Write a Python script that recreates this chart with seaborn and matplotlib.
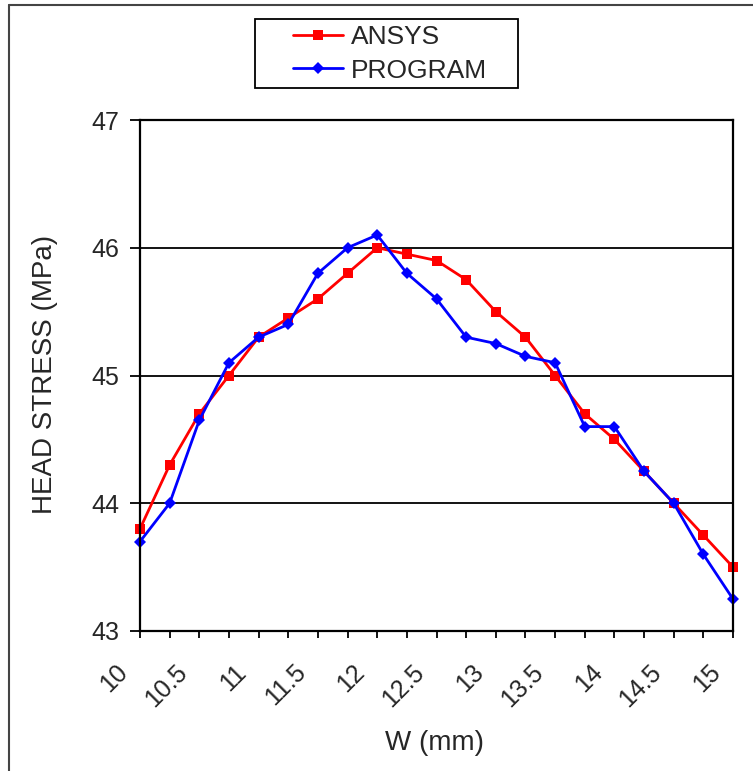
import numpy as np
import pandas as pd
import matplotlib
matplotlib.use("Agg")
import matplotlib.pyplot as plt
import matplotlib.transforms as mtransforms
from matplotlib.lines import Line2D
from matplotlib.patches import Rectangle
import seaborn as sns

w_mm = [10.0, 10.25, 10.5, 10.75, 11.0, 11.25, 11.5, 11.75, 12.0, 12.25, 12.5,
        12.75, 13.0, 13.25, 13.5, 13.75, 14.0, 14.25, 14.5, 14.75, 15.0]
ansys = [43.8, 44.3, 44.7, 45.0, 45.3, 45.45, 45.6, 45.8, 46.0, 45.95, 45.9,
         45.75, 45.5, 45.3, 45.0, 44.7, 44.5, 44.25, 44.0, 43.75, 43.5]
program = [43.7, 44.0, 44.65, 45.1, 45.3, 45.4, 45.8, 46.0, 46.1, 45.8, 45.6,
           45.3, 45.25, 45.15, 45.1, 44.6, 44.6, 44.25, 44.0, 43.6, 43.25]
x_tick_labels = ["10", "10.5", "11", "11.5", "12", "12.5", "13", "13.5", "14", "14.5", "15"]
y_ticks = [43, 44, 45, 46, 47]

df = pd.DataFrame({"W": w_mm * 2,
                   "stress": ansys + program,
                   "series": ["ANSYS"] * len(w_mm) + ["PROGRAM"] * len(w_mm)})

sns.set_theme(style="white")
plt.rcParams["font.family"] = ["Liberation Sans", "DejaVu Sans"]

W, H = 753, 771
fig = plt.figure(figsize=(W / 100, H / 100), dpi=100)
ax = fig.add_axes([140 / W, 1 - 631 / H, (733 - 140) / W, (631 - 120) / H])

sns.lineplot(data=df, x="W", y="stress", hue="series", style="series",
             palette={"ANSYS": "#ff0000", "PROGRAM": "#0000ff"},
             markers={"ANSYS": "s", "PROGRAM": "D"}, dashes=False,
             markersize=7, markeredgewidth=0, linewidth=2, ax=ax, legend=False)
for line in ax.lines:
    if line.get_marker() == "D":
        line.set_markersize(6)
    line.set_clip_on(False)

ax.set_xlim(10, 15)
ax.set_ylim(43, 47)
ax.set_xticks(w_mm)
labels = []
for v in w_mm:
    s = f"{v:g}"
    labels.append(s if s in x_tick_labels else "")
ax.set_yticks(y_ticks)
ax.tick_params(axis="x", bottom=True, direction="out", length=5, width=1.3, color="black", pad=6)
ax.tick_params(axis="y", left=True, direction="out", length=7, width=1.3, color="black", pad=8)
ax.set_xticklabels(labels, rotation=45, ha="right", va="center", rotation_mode="anchor",
                   fontsize=18)
ax.set_yticklabels([str(t) for t in y_ticks], fontsize=18)
offset = mtransforms.ScaledTranslation(-16 / 100, -22 / 100, fig.dpi_scale_trans)
for lab in ax.get_xticklabels():
    lab.set_transform(lab.get_transform() + offset)
ax.yaxis.grid(True, color="black", linewidth=1.3)
ax.xaxis.grid(False)
for sp in ax.spines.values():
    sp.set_visible(True)
    sp.set_color("black")
    sp.set_linewidth(1.6)

ax.set_xlabel("W (mm)", fontsize=20)
ax.xaxis.set_label_coords(0.497, (631 - 730) / 511)
ax.set_ylabel("HEAD STRESS (MPa)", fontsize=20)
ax.yaxis.set_label_coords((58 - 140) / 593, (631 - 374) / 511)

handles = [Line2D([0], [0], color="#ff0000", lw=2, marker="s", markersize=7, markeredgewidth=0),
           Line2D([0], [0], color="#0000ff", lw=2, marker="D", markersize=6, markeredgewidth=0)]
leg = fig.legend(handles, ["ANSYS", "PROGRAM"], loc="upper left",
                 bbox_to_anchor=(293 / W, 1 - 25 / H), frameon=False,
                 fontsize=19, handlelength=1.9, borderpad=0, labelspacing=0.36,
                 handletextpad=0.3, borderaxespad=0)
fig.add_artist(Rectangle((255 / W, 1 - 88 / H), (518 - 255) / W, (88 - 19) / H,
                         transform=fig.transFigure, fill=False, edgecolor="black", lw=1.3))

# outer chart frame (top and left edges visible)
fig.add_artist(Line2D([9 / W, 9 / W], [0, 1 - 5 / H], color="#444444", lw=1.5,
                      transform=fig.transFigure))
fig.add_artist(Line2D([9 / W, 1], [1 - 5 / H, 1 - 5 / H], color="#444444", lw=1.5,
                      transform=fig.transFigure))

fig.savefig("out.png", dpi=100)
